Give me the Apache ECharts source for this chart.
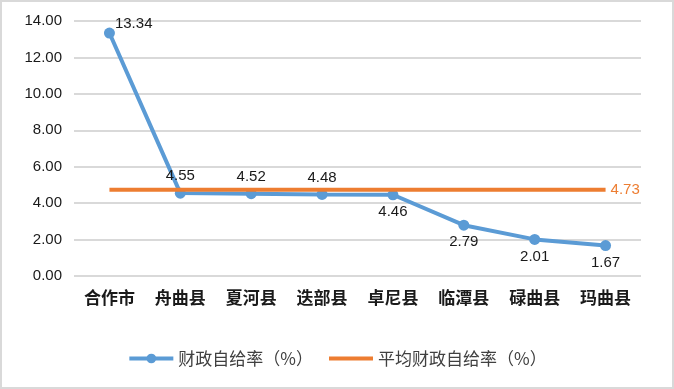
<!DOCTYPE html>
<html><head><meta charset="utf-8">
<script src="https://cdn.jsdelivr.net/npm/echarts@6/dist/echarts.min.js"></script>
<style>html,body{margin:0;padding:0;background:#fff}#c{width:674px;height:389px;box-sizing:border-box;border:2px solid #d9d9d9}</style>
</head><body><div id="c"></div>
<script>
const categories = ['合作市','舟曲县','夏河县','迭部县','卓尼县','临潭县','碌曲县','玛曲县'];
const rateValues = [13.34, 4.55, 4.52, 4.48, 4.46, 2.79, 2.01, 1.67];
const avgValue = 4.73;
const avgValues = categories.map(()=>avgValue);
const labelPos = ['right','top','top','top','bottom','bottom','bottom','bottom'];
const seriesNames = ['财政自给率（%）','平均财政自给率（%）'];

const chart = echarts.init(document.getElementById('c'));
const rateData = rateValues.map((v,i)=>({value:v,label:{position:labelPos[i], offset: labelPos[i]==='right'?[-4,-9]:[0,0]}}));
chart.setOption({
  animation:false,
  grid:{left:72,right:31,top:19,bottom:111,containLabel:false},
  legend:{bottom:15,left:'center',itemWidth:44,itemHeight:12,itemGap:14,
    lineStyle:{width:4},
    textStyle:{fontFamily:'Noto Sans CJK SC',fontSize:17,color:'#404040'},
    data:[{name:seriesNames[0]},{name:seriesNames[1],itemStyle:{opacity:0}}]},
  xAxis:{type:'category',data:categories,boundaryGap:true,
    axisLine:{show:false},axisTick:{show:false},
    axisLabel:{fontFamily:'Noto Sans CJK SC',fontWeight:'bold',fontSize:17,color:'#1a1a1a',margin:13}},
  yAxis:{type:'value',min:0,max:14,interval:2,
    axisLabel:{formatter:v=>v.toFixed(2),fontFamily:'Liberation Sans',fontSize:15,color:'#1a1a1a',margin:12},
    splitLine:{lineStyle:{color:'#d9d9d9',width:2}},axisLine:{show:false},axisTick:{show:false}},
  series:[
    {name:seriesNames[0],type:'line',data:rateData,symbol:'circle',symbolSize:11,
     lineStyle:{color:'#5B9BD5',width:4},itemStyle:{color:'#5B9BD5'},
     label:{show:true,fontFamily:'Liberation Sans',fontSize:15,color:'#1a1a1a',distance:4,formatter:p=>p.value.toFixed(2)},
     z:2},
    {name:seriesNames[1],type:'line',data:avgValues,symbol:'none',
     lineStyle:{color:'#ED7D31',width:4},itemStyle:{color:'#ED7D31'},
     endLabel:{show:true,fontFamily:'Liberation Sans',fontSize:15,color:'#ED7D31',distance:5,formatter:()=>avgValue.toFixed(2)},
     z:3}
  ]
});
</script></body></html>
